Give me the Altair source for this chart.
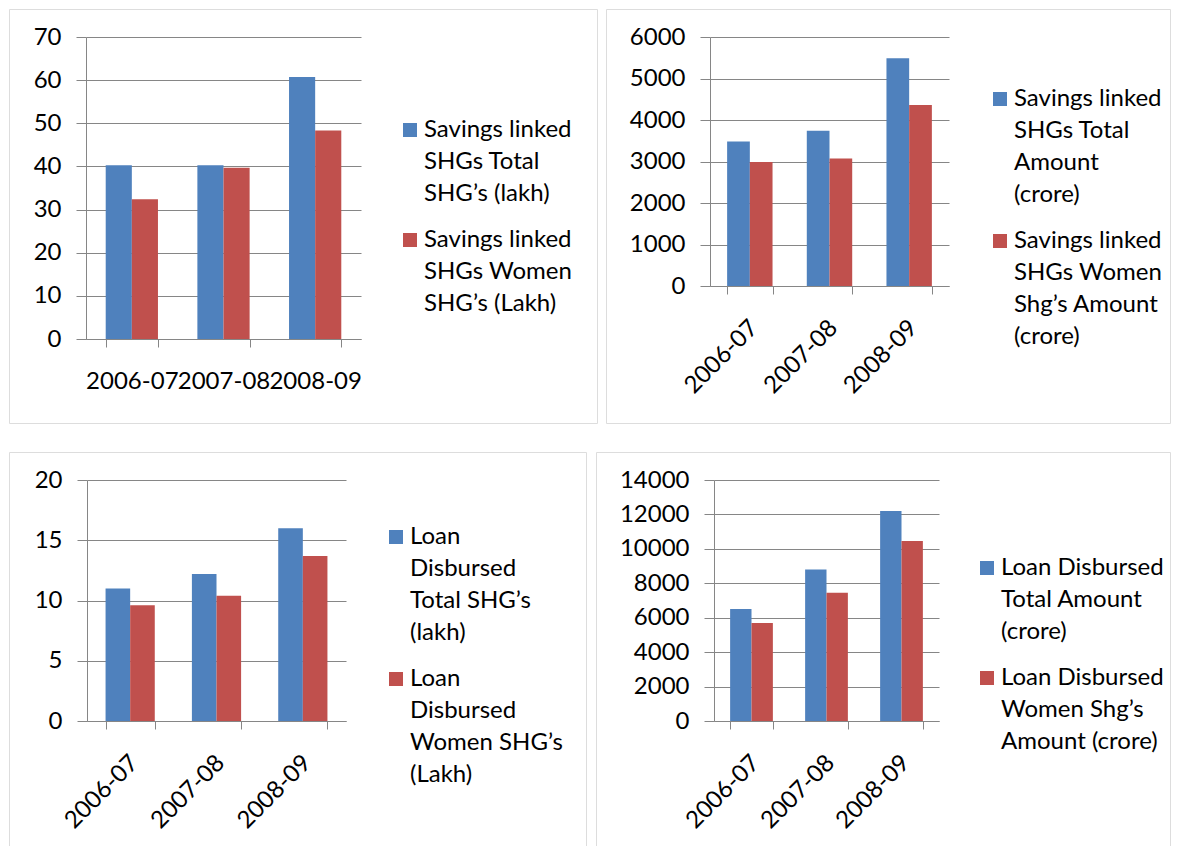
import altair as alt
import pandas as pd

years = ["2006-07", "2007-08", "2008-09"]

tl_names = ["Savings linked\nSHGs Total\nSHG’s (lakh)", "Savings linked\nSHGs Women\nSHG’s (Lakh)"]
tl_total = [40.3, 40.3, 60.7]
tl_women = [32.4, 39.7, 48.3]

tr_names = ["Savings linked\nSHGs Total\nAmount\n(crore)", "Savings linked\nSHGs Women\nShg’s Amount\n(crore)"]
tr_total = [3480, 3740, 5490]
tr_women = [2990, 3070, 4360]

bl_names = ["Loan\nDisbursed\nTotal SHG’s\n(lakh)", "Loan\nDisbursed\nWomen SHG’s\n(Lakh)"]
bl_total = [11.0, 12.2, 16.0]
bl_women = [9.6, 10.4, 13.7]

br_names = ["Loan Disbursed\nTotal Amount\n(crore)", "Loan Disbursed\nWomen Shg’s\nAmount (crore)"]
br_total = [6500, 8800, 12200]
br_women = [5700, 7450, 10450]

BLUE, RED = "#4F81BD", "#C0504D"
GRAY = "#868686"
FONT = "Lato"
FS = 24


def make_df(names, total, women):
    rows = []
    for y, t, w in zip(years, total, women):
        rows.append({"year": y, "series": names[0], "value": t})
        rows.append({"year": y, "series": names[1], "value": w})
    return pd.DataFrame(rows)


def panel(names, total, women, ymax, ystep, w, h, xr, yr, angle, xpad, lx, ly):
    df = make_df(names, total, women)
    if angle == 0:
        lab = dict(labelAngle=0, labelAlign="center", labelBaseline="middle")
    else:
        lab = dict(labelAngle=angle, labelAlign="right", labelBaseline="middle", labelOffset=4)
    x = alt.X(
        "year:N",
        sort=years,
        scale=alt.Scale(domain=years, range=xr, paddingInner=0.43, paddingOuter=0.215),
        axis=alt.Axis(
            title=None, offset=-(h - yr[0]), tickBand="extent", tickSize=8,
            tickColor=GRAY, domainColor=GRAY, grid=False, labelFont=FONT,
            labelFontSize=FS, labelColor="#000", labelPadding=xpad,
            labelOverlap=False, labelBound=False, labelFlush=False, **lab,
        ),
    )
    y = alt.Y(
        "value:Q",
        scale=alt.Scale(domain=[0, ymax], range=yr, nice=False, zero=True),
        axis=alt.Axis(
            title=None, values=list(range(0, ymax + 1, ystep)), offset=-xr[0],
            format="d", tickSize=10, tickColor=GRAY, domainColor=GRAY, grid=True,
            gridColor=GRAY, labelFont=FONT, labelFontSize=FS, labelColor="#000",
            labelPadding=15, labelOverlap=False, labelFlush=False, labelBound=False,
        ),
    )
    color = alt.Color(
        "series:N",
        scale=alt.Scale(domain=names, range=[BLUE, RED]),
        legend=alt.Legend(
            orient="none", legendX=lx, legendY=ly, title=None, symbolType="square",
            symbolSize=196, symbolStrokeWidth=0, symbolOpacity=1, labelFont=FONT,
            labelFontSize=FS, labelColor="#000",
            labelExpr="split(datum.label, '\\n')", labelOffset=2, rowPadding=22,
            labelLimit=600, padding=0, labelBaseline="middle",
        ),
    )
    return (
        alt.Chart(df)
        .mark_bar()
        .encode(
            x=x,
            xOffset=alt.XOffset("series:N", sort=names,
                                scale=alt.Scale(domain=names, paddingInner=0, paddingOuter=0)),
            y=y,
            color=color,
        )
        .properties(width=w, height=h)
    )


tl = panel(tl_names, tl_total, tl_women, 70, 10, 588, 414, [77, 352], [330, 28], 0, 34, 389, 109)
tr = panel(tr_names, tr_total, tr_women, 6000, 1000, 564, 414, [104, 343], [277, 28], -45, 30, 382, 78)
bl = panel(bl_names, bl_total, bl_women, 20, 5, 577, 410, [78, 337], [269, 28], -45, 30, 375, 73)
br = panel(br_names, br_total, br_women, 14000, 2000, 574, 410, [118, 343], [269, 28], -45, 30, 379, 104)

res = dict(color="independent", x="independent", y="independent", xOffset="independent")
top = alt.hconcat(tl, tr, spacing=9, bounds="flush").resolve_scale(**res).resolve_legend(color="independent")
bottom = alt.hconcat(bl, br, spacing=10, bounds="flush").resolve_scale(**res).resolve_legend(color="independent")

chart = (
    alt.vconcat(top, bottom, spacing=27)
    .resolve_scale(**res)
    .resolve_legend(color="independent")
    .properties(padding={"left": -8, "top": 0, "right": 0, "bottom": -17}, background="white")
    .configure_view(stroke="#8a8a8a", strokeWidth=1.2)
    .configure(style={"guide-label": {"lineHeight": 32}})
)

chart.save("out.html", embed_options={"renderer": "svg", "actions": False})
